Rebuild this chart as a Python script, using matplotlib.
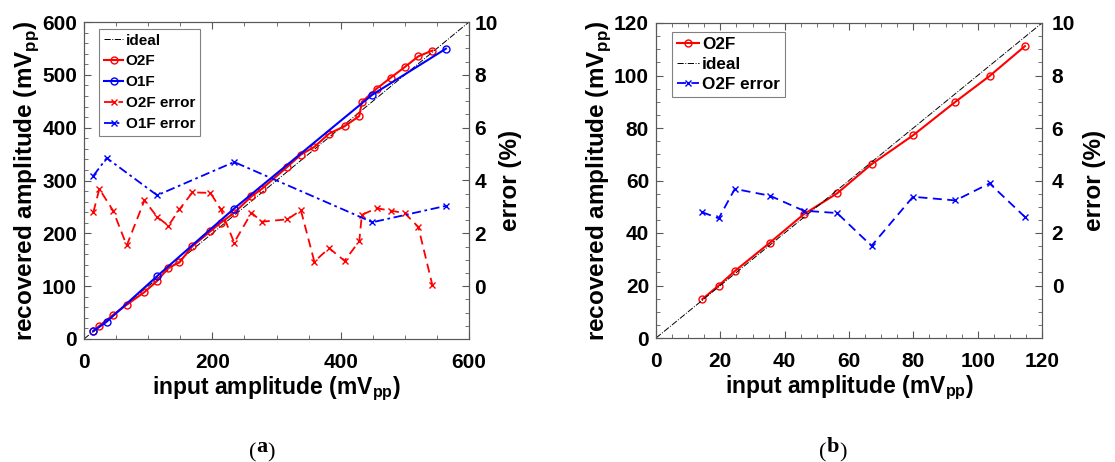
import matplotlib
matplotlib.use("Agg")
import matplotlib.pyplot as plt
from matplotlib.ticker import MultipleLocator

plt.rcParams['font.family'] = ['Liberation Sans', 'DejaVu Sans']
plt.rcParams['mathtext.fontset'] = 'custom'
plt.rcParams['mathtext.rm'] = 'Liberation Sans:bold'
plt.rcParams['mathtext.bf'] = 'Liberation Sans:bold'

# ---------------- data: panel (a) ----------------
a_o2f_x = [14.6, 23.9, 45.3, 66.6, 94.2, 114, 131.6, 148.8, 169, 197, 213, 234, 261, 277,
           317, 338, 359, 382, 406, 429, 433, 456, 478, 500, 521, 543]
a_o2f_y = [15.1, 24.6, 45.4, 64.9, 88.8, 110, 134.8, 145, 175.8, 204, 220, 238.8, 270, 284,
           326, 349, 363.6, 388.8, 402.6, 422, 448.6, 473.8, 494.6, 514.8, 535, 546]
a_o2f_err = [2.80, 3.68, 2.86, 1.54, 3.25, 2.62, 2.29, 2.91, 3.55, 3.53, 2.92, 1.65, 2.78, 2.44,
             2.53, 2.87, 0.93, 1.44, 0.96, 1.70, 2.70, 2.95, 2.86, 2.76, 2.24, 0.03]
a_o1f_x = [14.6, 35.4, 114, 234, 449.5, 564]
a_o1f_y = [15.1, 32.8, 119, 247, 462.5, 549.5]
a_o1f_err = [4.18, 4.85, 3.44, 4.70, 2.42, 3.04]
a_ideal = [0, 600]

# ---------------- data: panel (b) ----------------
b_o2f_x = [14.4, 19.5, 24.5, 35.4, 45.9, 56.3, 67.0, 79.9, 93.1, 103.7, 114.7]
b_o2f_y = [14.8, 20.0, 25.5, 36.3, 47.1, 55.1, 66.2, 77.2, 90.0, 99.8, 111.2]
b_o2f_err = [2.79, 2.56, 3.68, 3.42, 2.85, 2.76, 1.51, 3.38, 3.24, 3.89, 2.61]
b_ideal = [0, 120]

xlabel = r'input amplitude (mV$_{\mathbf{pp}}$)'
ylabel = r'recovered amplitude (mV$_{\mathbf{pp}}$)'
y2label = 'error (%)'
captions = ['a', 'b']

W, H = 1115, 462
fig = plt.figure(figsize=(W / 100, H / 100), dpi=100)

RED = '#FF0000'
BLUE = '#0000FF'
SPINE = '0.35'
TFS = 15
XLFS = 16.5
YLFS = 17.5


def style_axes(ax, ax2, xmaj, xmin, ymaj, ymin, rpad, rlabpad):
    ax.xaxis.set_major_locator(MultipleLocator(xmaj))
    ax.xaxis.set_minor_locator(MultipleLocator(xmin))
    ax.yaxis.set_major_locator(MultipleLocator(ymaj))
    ax.yaxis.set_minor_locator(MultipleLocator(ymin))
    ax2.set_yticks([0, 2, 4, 6, 8, 10])
    ax2.yaxis.set_minor_locator(MultipleLocator(0.5))
    ax.tick_params(axis='x', which='both', direction='in', top=True, colors=SPINE,
                   labelcolor='black', labelsize=TFS, pad=10)
    ax.tick_params(axis='y', which='both', direction='in', left=True, right=False,
                   colors=SPINE, labelcolor='black', labelsize=TFS, pad=5)
    ax2.tick_params(axis='y', which='both', direction='in', right=True,
                    colors=SPINE, labelcolor='black', labelsize=TFS, pad=rpad)
    for t in ax.get_xticklabels() + ax.get_yticklabels() + ax2.get_yticklabels():
        t.set_fontweight('bold')
    for a in (ax, ax2):
        for s in a.spines.values():
            s.set_color(SPINE)
            s.set_linewidth(0.8)
        a.tick_params(which='major', length=5)
        a.tick_params(which='minor', length=3)
    ax.set_xlabel(xlabel, fontsize=XLFS, fontweight='bold', labelpad=2)
    ax.set_ylabel(ylabel, fontsize=YLFS, fontweight='bold', labelpad=1)
    ax2.set_ylabel(y2label, fontsize=YLFS, fontweight='bold', labelpad=rlabpad)


def make_legend(ax2, handles, anchor, fs, spacing):
    leg = ax2.legend(handles=handles, loc='upper left', bbox_to_anchor=anchor,
                     fontsize=fs, handlelength=1.3, handletextpad=0.15, borderpad=0.3,
                     labelspacing=spacing, fancybox=False, edgecolor='0.5',
                     framealpha=1, borderaxespad=0)
    leg.get_frame().set_linewidth(0.8)
    for t in leg.get_texts():
        t.set_fontweight('bold')
    return leg


# ---------------- panel (a) ----------------
AL, AR, AT, AB = 84, 469, 22, 339
axa = fig.add_axes([AL / W, 1 - AB / H, (AR - AL) / W, (AB - AT) / H])
axa2 = axa.twinx()
l_ideal, = axa.plot(a_ideal, a_ideal, color='black', lw=0.7, ls='-.', label='ideal')
l_o2f, = axa.plot(a_o2f_x, a_o2f_y, color=RED, lw=1.5, marker='o', ms=5, mfc='none',
                  mec=RED, mew=1.0, label='O2F')
l_o1f, = axa.plot(a_o1f_x, a_o1f_y, color=BLUE, lw=1.5, marker='o', ms=5, mfc='none',
                  mec=BLUE, mew=1.0, label='O1F')
l_o2fe, = axa2.plot(a_o2f_x, a_o2f_err, color=RED, lw=1.3, ls=(0, (5, 3)), marker='x',
                    ms=4, mew=1.0, label='O2F error')
l_o1fe, = axa2.plot(a_o1f_x, a_o1f_err, color=BLUE, lw=1.3, ls=(0, (5, 2, 1.5, 2)),
                    marker='x', ms=4, mew=1.0, label='O1F error')
axa.set_xlim(0, 600)
axa.set_ylim(0, 600)
axa2.set_ylim(-2, 10)
style_axes(axa, axa2, 200, 50, 100, 20, 4, 1)
make_legend(axa2, [l_ideal, l_o2f, l_o1f, l_o2fe, l_o1fe],
            ((99 - AL) / (AR - AL), 1 - (29 - AT) / (AB - AT)), 11, 0.45)

# ---------------- panel (b) ----------------
BL, BR, BT, BB = 656, 1042, 23, 338
axb = fig.add_axes([BL / W, 1 - BB / H, (BR - BL) / W, (BB - BT) / H])
axb2 = axb.twinx()
m_o2f, = axb.plot(b_o2f_x, b_o2f_y, color=RED, lw=1.5, marker='o', ms=5, mfc='none',
                  mec=RED, mew=1.0, label='O2F')
m_ideal, = axb.plot(b_ideal, b_ideal, color='black', lw=0.7, ls='-.', label='ideal')
m_err, = axb2.plot(b_o2f_x, b_o2f_err, color=BLUE, lw=1.3, ls=(0, (5, 3)), marker='x',
                   ms=4, mew=1.0, label='O2F error')
axb.set_xlim(0, 120)
axb.set_ylim(0, 120)
axb2.set_ylim(-2, 10)
style_axes(axb, axb2, 20, 5, 20, 5, 7, 6)
make_legend(axb2, [m_o2f, m_ideal, m_err],
            ((672 - BL) / (BR - BL), 1 - (32 - BT) / (BB - BT)), 12.3, 0.28)

# ---------------- captions ----------------
ax_tmp = fig.add_axes([0, 0, 0.001, 0.001])
ax_tmp.set_axis_off()
for cx, letter in zip([262 / W, 833 / W], captions):
    mid = fig.text(cx, 1 - 452 / H, letter, ha='center', va='baseline', fontsize=16,
                   fontweight='bold', family='Liberation Serif')
    ax_tmp.annotate('(', xy=(0, 0), xycoords=mid, ha='right', va='baseline',
                    fontsize=16, family='Liberation Serif', annotation_clip=False)
    ax_tmp.annotate(')', xy=(1, 0), xycoords=mid, ha='left', va='baseline',
                    fontsize=16, family='Liberation Serif', annotation_clip=False)

fig.savefig('out.png', dpi=100)
